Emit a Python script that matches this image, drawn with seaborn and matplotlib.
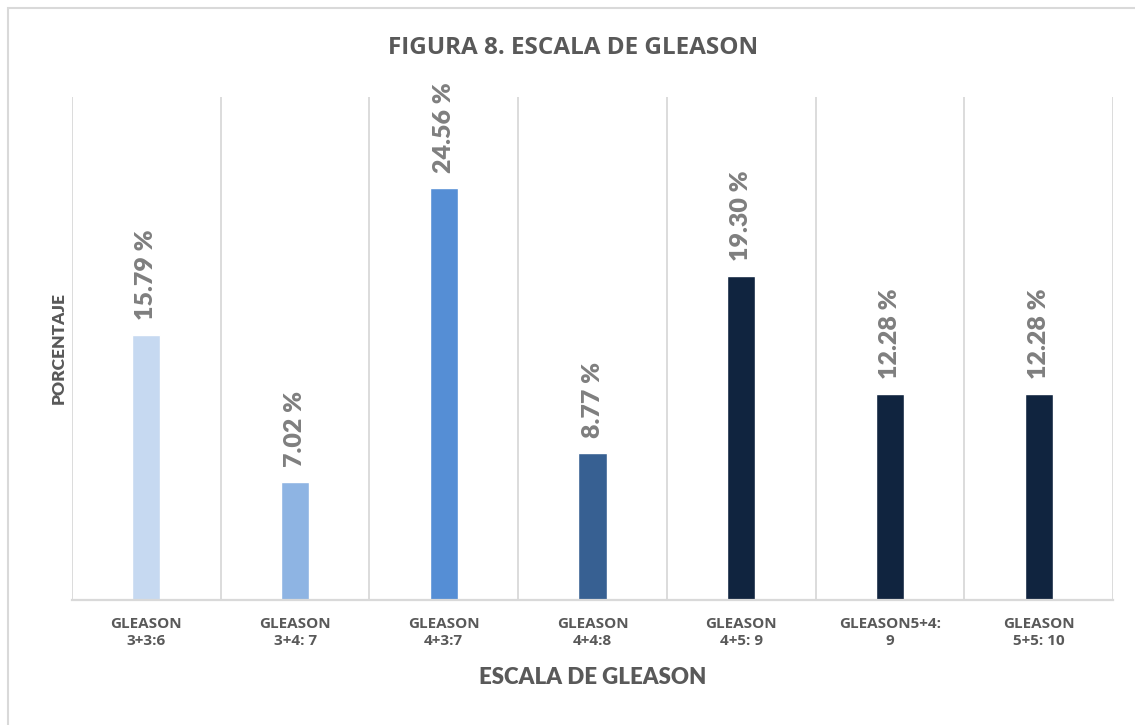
import matplotlib
matplotlib.use("Agg")
import matplotlib.pyplot as plt
from matplotlib.patches import Rectangle
from matplotlib.ticker import FixedLocator
import seaborn as sns

categories = ["GLEASON\n3+3:6", "GLEASON\n3+4: 7", "GLEASON\n4+3:7", "GLEASON\n4+4:8",
              "GLEASON\n4+5: 9", "GLEASON5+4:\n9", "GLEASON\n5+5: 10"]
values = [15.79, 7.02, 24.56, 8.77, 19.30, 12.28, 12.28]
bar_colors = ["#C6D9F1", "#8EB4E3", "#558ED5", "#376092", "#10243F", "#10243F", "#10243F"]
title = "FIGURA 8. ESCALA DE GLEASON"
x_title = "ESCALA DE GLEASON"
y_title = "PORCENTAJE"

sns.set_theme(style="white")
plt.rcParams["font.family"] = ["Lato", "DejaVu Sans"]
wide_font = ["Open Sans", "DejaVu Sans"]

fig = plt.figure(figsize=(11.35, 7.25), dpi=100)
ax = fig.add_axes([72 / 1135, 1 - 600 / 725, (1113 - 72) / 1135, (600 - 97) / 725])

sns.barplot(x=categories, y=values, hue=categories, palette=bar_colors,
            width=0.19, legend=False, saturation=1, ax=ax)

ax.set_ylim(0, 30)
ax.set_xlim(-0.5, len(categories) - 0.5)
ax.set_yticks([])

grid_c = "#D9D9D9"
ax.xaxis.set_minor_locator(FixedLocator([i - 0.5 for i in range(len(categories) + 1)]))
ax.grid(True, which="minor", axis="x", color=grid_c, linewidth=1.3)
ax.grid(False, which="major")
for side in ["top", "right", "left"]:
    ax.spines[side].set_visible(False)
ax.spines["bottom"].set_color(grid_c)
ax.spines["bottom"].set_linewidth(1.6)
ax.tick_params(axis="x", which="both", length=0, pad=12, labelsize=11,
               labelcolor="#595959")
for lbl in ax.get_xticklabels():
    lbl.set_fontweight("bold")
    lbl.set_family(wide_font)
    lbl.set_linespacing(1.3)

for i, v in enumerate(values):
    ax.annotate(f"{v:.2f} %", xy=(i, v), xytext=(0, 11), textcoords="offset points",
                rotation=90, ha="center", va="bottom", fontsize=18,
                fontweight="heavy", color="#7F7F7F")

ax.set_xlabel(x_title, fontsize=16, fontweight="heavy", color="#595959", labelpad=14)
ax.set_ylabel(y_title, fontsize=12.5, fontweight="heavy", color="#595959", labelpad=4)

fig.text(0.505, 1 - 48 / 725, title, ha="center", va="center", fontsize=17.5,
         fontweight="bold", color="#595959", family=wide_font)

fig.patches.append(Rectangle((8 / 1135, -0.1), 1.2, 1 - 8 / 725 + 0.1,
                             transform=fig.transFigure, fill=False,
                             edgecolor=grid_c, linewidth=1.5))

fig.savefig("out.png", dpi=100)
